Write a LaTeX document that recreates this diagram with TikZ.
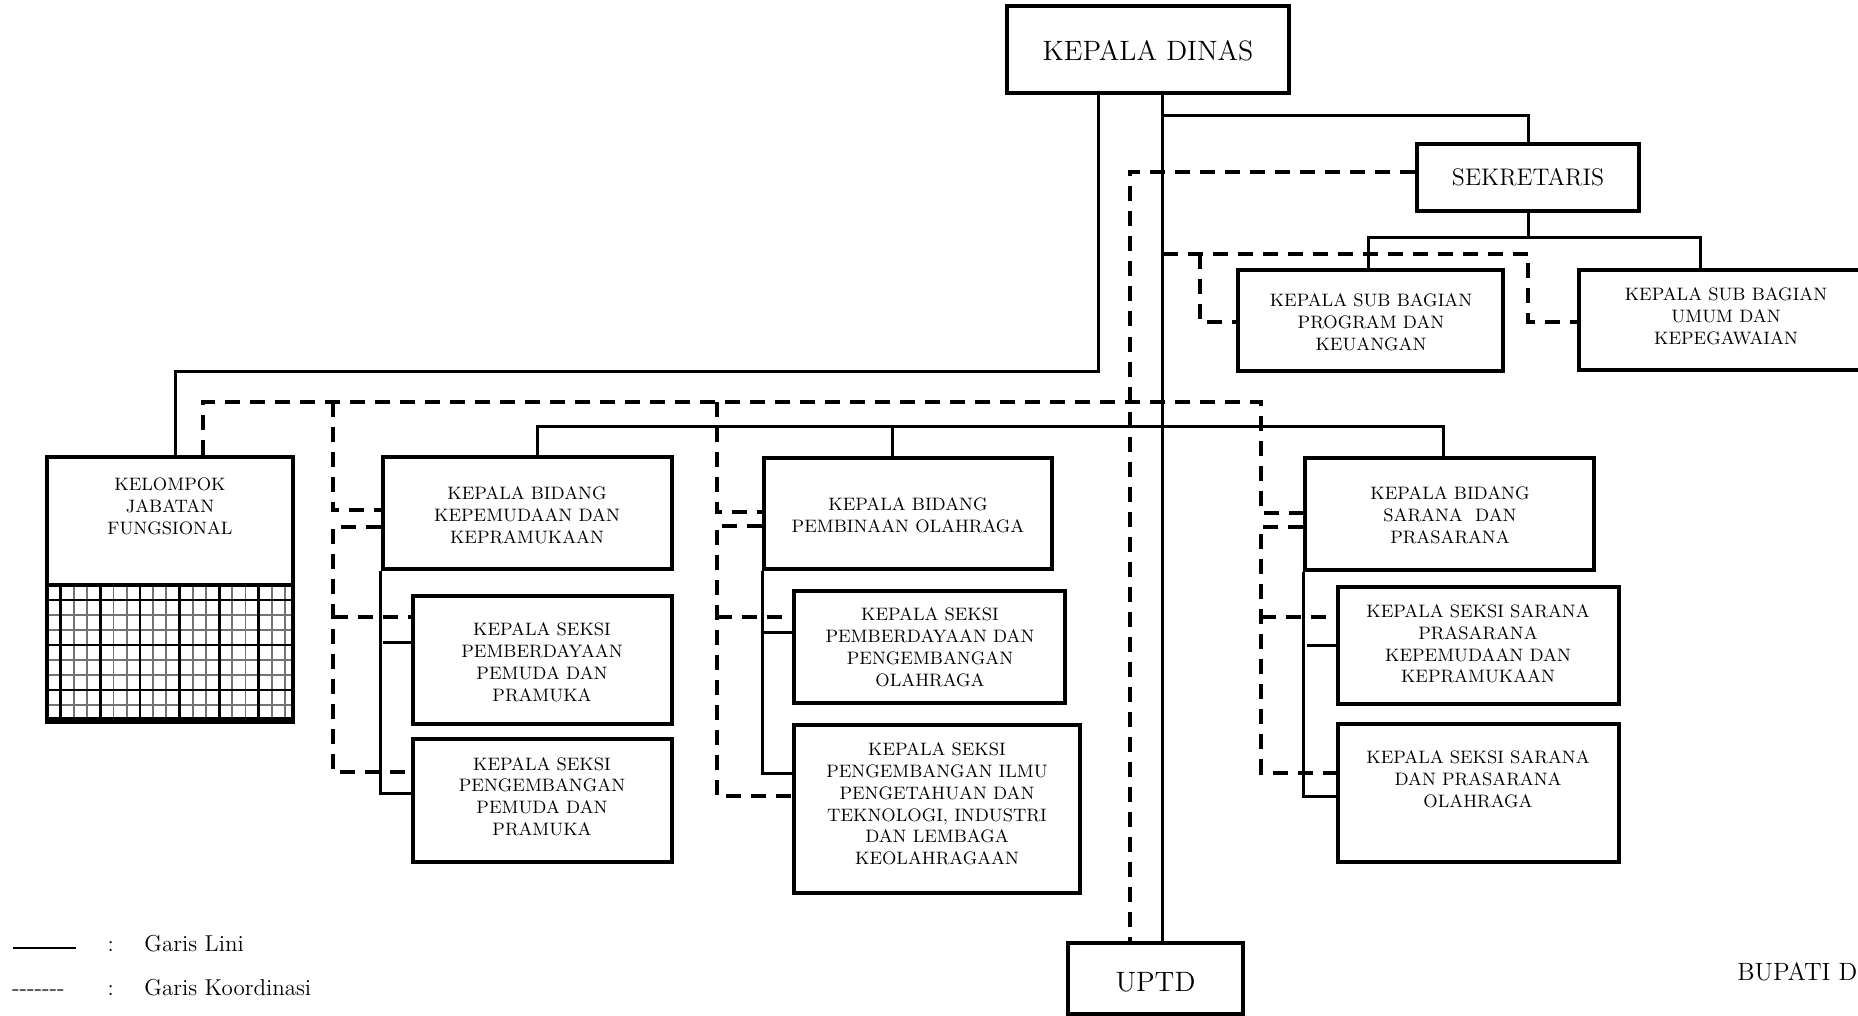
\documentclass[tikz,border=0pt]{standalone}
\usetikzlibrary{fit}
\begin{document}
\begin{tikzpicture}[x=0.5pt,y=-0.5pt,
  box/.style={draw, line width=2pt, inner sep=0pt, rectangle},
  txt/.style={font=\fontsize{9}{10.85}\selectfont, align=center, inner sep=0pt, anchor=north},
  ln/.style={line width=1.5pt},
  dl/.style={line width=2pt, dash pattern=on 7.5pt off 5pt},
  gmin/.style={line width=0.9pt, black!55},
  gmaj/.style={line width=1.4pt, black}]
\useasboundingbox (0,0) rectangle (1858,1016);
\clip (0,0) rectangle (1858,1016);

% ---------- boxes ----------
\node[box, fit={(1007,6) (1289,93)}] (kd) {};
\node[box, fit={(1417,144) (1639,211)}] (sek) {};
\node[box, fit={(1238,270) (1503,371)}] (ksbp) {};
\node[box, fit={(1579,270) (1873,370)}] (ksbu) {};
\node[box, fit={(382.6,456.7) (672,569)}] (kbk) {};
\node[box, fit={(413,596) (672,724)}] (ksp1) {};
\node[box, fit={(413,739) (672,861.7)}] (ksp2) {};
\node[box, fit={(764,457.7) (1052,569.3)}] (kbp) {};
\node[box, fit={(794.3,590.7) (1065,703.3)}] (kso1) {};
\node[box, fit={(794.3,725) (1080,893.3)}] (kso2) {};
\node[box, fit={(1305.4,458) (1594.3,570)}] (kbs) {};
\node[box, fit={(1338,586.7) (1618.7,704.3)}] (kss1) {};
\node[box, fit={(1338,724.3) (1618.7,861.7)}] (kss2) {};
\node[box, fit={(1068.4,943.3) (1242.5,1014)}] (uptd) {};

% KJF box with grid
\begin{scope}
  \clip (47,585) rectangle (293,719);
  \foreach \i in {-1,...,19} {\draw[gmin] ({60.7+13.2*\i},585) -- ++(0,134);}
  \foreach \i in {-1,...,9} {\draw[gmin] (47,{600+15*\i}) -- ++(246,0);}
  \foreach \i in {0,3,...,18} {\draw[gmaj] ({60.7+13.2*\i},585) -- ++(0,134);}
  \foreach \i in {0,3,6} {\draw[gmaj] (47,{600+15*\i}) -- ++(246,0);}
\end{scope}
\node[box, fit={(47,456.7) (293,719)}] (kjf) {};
\coordinate (kjfl) at (47,585);
\coordinate (kjfr) at (293,585);
\draw[line width=2pt] (kjfl) -- (kjfr);
\draw[line width=3pt] (kjf.south west) -- (kjf.south east);

% ---------- texts ----------
\node[font=\fontsize{14}{16}\selectfont, anchor=base, inner sep=0pt] (kdt) at (1148,61) {KEPALA DINAS};
\node[font=\fontsize{12}{14}\selectfont, anchor=base, inner sep=0pt] (sekt) at (1528,186) {SEKRETARIS};
\node[font=\fontsize{14}{16}\selectfont, anchor=base, inner sep=0pt] (uptdt) at (1155.5,991.7) {UPTD};
\node[txt] (ksbpt) at (1371,293.7) {KEPALA SUB BAGIAN\\PROGRAM DAN\\KEUANGAN};
\node[txt] (ksbut) at (1726,287.7) {KEPALA SUB BAGIAN\\UMUM DAN\\KEPEGAWAIAN};
\node[txt] (kjft) at (170,477.7) {KELOMPOK\\JABATAN\\FUNGSIONAL};
\node[txt] (kbkt) at (527,486.7) {KEPALA BIDANG\\KEPEMUDAAN DAN\\KEPRAMUKAAN};
\node[txt] (ksp1t) at (542,622.7) {KEPALA SEKSI\\PEMBERDAYAAN\\PEMUDA DAN\\PRAMUKA};
\node[txt] (ksp2t) at (542,757) {KEPALA SEKSI\\PENGEMBANGAN\\PEMUDA DAN\\PRAMUKA};
\node[txt] (kbpt) at (908,497.7) {KEPALA BIDANG\\PEMBINAAN OLAHRAGA};
\node[txt] (kso1t) at (930,607.7) {KEPALA SEKSI\\PEMBERDAYAAN DAN\\PENGEMBANGAN\\OLAHRAGA};
\node[txt] (kso2t) at (937,742.7) {KEPALA SEKSI\\PENGEMBANGAN ILMU\\PENGETAHUAN DAN\\TEKNOLOGI, INDUSTRI\\DAN LEMBAGA\\KEOLAHRAGAAN};
\node[txt] (kbst) at (1450,486.7) {KEPALA BIDANG\\SARANA\ \ DAN\\PRASARANA};
\node[txt] (kss1t) at (1478,604.4) {KEPALA SEKSI SARANA\\PRASARANA\\KEPEMUDAAN DAN\\KEPRAMUKAAN};
\node[txt] (kss2t) at (1478,750.4) {KEPALA SEKSI SARANA\\DAN PRASARANA\\OLAHRAGA};
\node[font=\fontsize{12.5}{15}\selectfont, anchor=base west, inner sep=0pt] (bup) at (1737,980.7) {BUPATI D};

% ---------- legend ----------
\coordinate (lg1) at (12.7,947.7);
\coordinate (lg2) at (76,947.7);
\draw[line width=1pt] (lg1) -- (lg2);
\node[font=\fontsize{11.5}{13}\selectfont, anchor=base, inner sep=0pt] (lc1) at (110.7,951) {:};
\node[font=\fontsize{11.5}{13}\selectfont, anchor=base west, inner sep=0pt] (lt1) at (144,951) {Garis Lini};
\node[font=\fontsize{11.5}{13}\selectfont, anchor=base west, inner sep=0pt] (ld2) at (11.7,995) {-{}-{}-{}-{}-{}-{}-};
\node[font=\fontsize{11.5}{13}\selectfont, anchor=base, inner sep=0pt] (lc2) at (110.7,995) {:};
\node[font=\fontsize{11.5}{13}\selectfont, anchor=base west, inner sep=0pt] (lt2) at (144,995) {Garis Koordinasi};

% ---------- coordinates ----------
\coordinate (a1) at (1098,371.7);
\coordinate (a2) at (175.4,371.7);
\coordinate (b0) at (1162.5,0);
\coordinate (b1) at (1162.5,116);
\coordinate (s1) at (1528,238);
\coordinate (s2) at (1368.6,238);
\coordinate (s3) at (1700.5,238);
\coordinate (h1) at (537,426.7);
\coordinate (h2) at (892.3,426.7);
\coordinate (h3) at (1443.8,426.7);
\coordinate (k1) at (382.7,642.7);
\coordinate (k2) at (382.7,793.5);
\coordinate (p1) at (764.3,632.3);
\coordinate (p2) at (764.3,773.3);
\coordinate (q1) at (1306.7,645);
\coordinate (q2) at (1306.7,796);

\coordinate (d1) at (1129.5,172);
\coordinate (e0) at (1162.5,254);
\coordinate (e1) at (1200,254);
\coordinate (e2) at (1528,254);
\coordinate (e3) at (1200,322);
\coordinate (e4) at (1528,322);
\coordinate (f0) at (203,401.7);
\coordinate (f1) at (1261,401.7);
\coordinate (l0) at (332.6,401.7);
\coordinate (l1) at (332.6,510);
\coordinate (l2) at (332.6,526.7);
\coordinate (l3) at (332.6,771.7);
\coordinate (l4) at (332.6,616.7);
\coordinate (m0) at (716.7,401.7);
\coordinate (m1) at (716.7,511.7);
\coordinate (m2) at (716.7,525.7);
\coordinate (m3) at (716.7,796);
\coordinate (m4) at (716.7,616.7);
\coordinate (r1) at (1261,512.7);
\coordinate (r2) at (1261,526.7);
\coordinate (r3) at (1261,772.7);
\coordinate (r4) at (1261,616.7);

% ---------- dashed (coordination) ----------
\draw[dl] (sek.west |- d1) -- (d1) -- (uptd.north -| d1);
\draw[dl] (e0) -- (e2) -- (e4) -- (ksbu.west |- e4);
\draw[dl] (e1) -- (e3) -- (ksbp.west |- e3);
\draw[dl] (kjf.north -| f0) -- (f0) -- (f1) -- (r1) -- (kbs.west |- r1);
\draw[dl] (l0) -- (l1) -- (kbk.west |- l1);
\draw[dl] (kbk.west |- l2) -- (l2) -- (l3) -- (ksp2.west |- l3);
\draw[dl] (l4) -- (ksp1.west |- l4);
\draw[dl] (m0) -- (m1) -- (kbp.west |- m1);
\draw[dl] (kbp.west |- m2) -- (m2) -- (m3) -- (kso2.west |- m3);
\draw[dl] (m4) -- (kso1.west |- m4);
\draw[dl] (kbs.west |- r2) -- (r2) -- (r3) -- (kss2.west |- r3);
\draw[dl] (r4) -- (kss1.west |- r4);

% ---------- solid (line) ----------
\draw[ln] (kd.south -| a1) -- (a1) -- (a2) -- (kjf.north -| a2);
\draw[ln] (kd.south -| b0) -- (uptd.north -| b0);
\draw[ln] (b1) -| (sek.north);
\draw[ln] (sek.south) -- (s1);
\draw[ln] (ksbp.north -| s2) -- (s2) -- (s3) -- (ksbu.north -| s3);
\draw[ln] (kbk.north -| h1) -- (h1) -- (h3) -- (kbs.north -| h3);
\draw[ln] (h2) -- (kbp.north -| h2);
\draw[ln] (kbk.south west) |- (ksp2.west |- k2);
\draw[ln] (k1) -- (ksp1.west |- k1);
\draw[ln] (kbp.south west) |- (kso2.west |- p2);
\draw[ln] (p1) -- (kso1.west |- p1);
\draw[ln] (kbs.south west) |- (kss2.west |- q2);
\draw[ln] (q1) -- (kss1.west |- q1);
\end{tikzpicture}
\end{document}
